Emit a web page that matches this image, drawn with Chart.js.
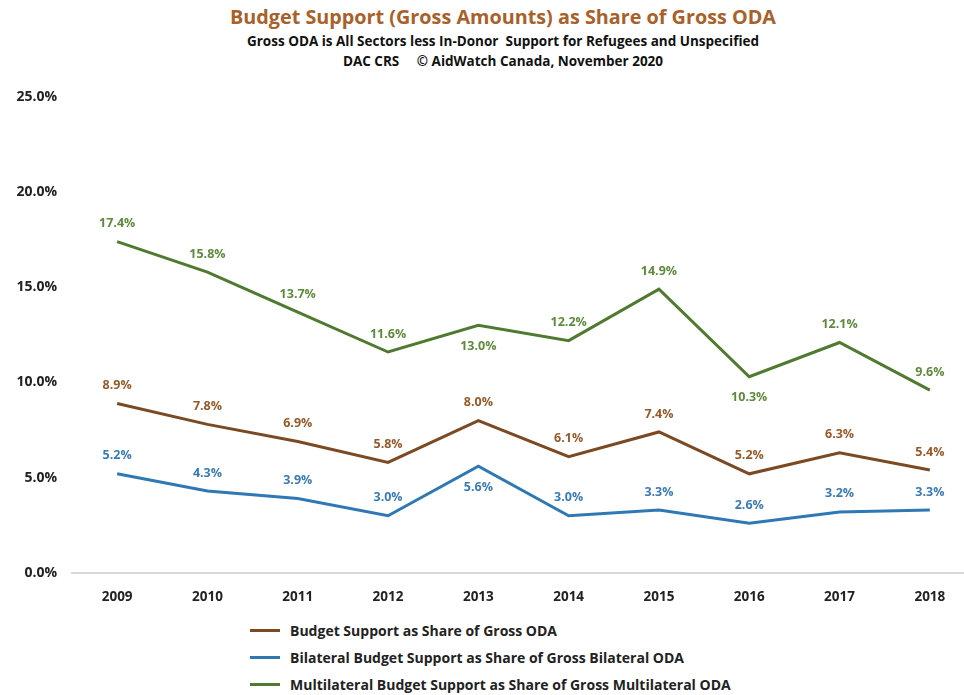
<!DOCTYPE html>
<html>
<head>
<meta charset="utf-8">
<script src="https://cdn.jsdelivr.net/npm/chart.js@4.4.0/dist/chart.umd.min.js"></script>
<style>
  html, body { margin: 0; padding: 0; background: #fff; overflow: hidden; }
  #wrap { position: relative; width: 964px; height: 695px; overflow: hidden; }
  #head { position: absolute; left: 0; top: 3px; width: 1006px; text-align: center; font-family: 'Open Sans', sans-serif; font-weight: bold; }
  #head .t { color: #a8612a; font-size: 19.8px; line-height: 28px; }
  #head .s { color: #111; font-size: 13.5px; line-height: 20px; }
  #chartBox { position: absolute; left: 0; top: 74px; width: 975px; height: 539px; }
  #legend { position: absolute; left: 250px; top: 617px; font-family: 'Open Sans', sans-serif; font-weight: bold; font-size: 14px; color: #222; }
  #legend div { height: 27px; display: flex; align-items: center; }
  #legend span.swatch { display: inline-block; width: 30px; height: 3px; margin-right: 10px; }
</style>
</head>
<body>
<div id="wrap">
  <div id="head">
    <div class="t">Budget Support (Gross Amounts) as Share of Gross ODA</div>
    <div class="s">Gross ODA is All Sectors less In-Donor&nbsp; Support for Refugees and Unspecified</div>
    <div class="s">DAC CRS &nbsp;&nbsp;&nbsp; &copy; AidWatch Canada, November 2020</div>
  </div>
  <div id="chartBox"><canvas id="odaChart"></canvas></div>
  <div id="legend"></div>
</div>
<script>
// years on the category axis
const years = ["2009", "2010", "2011", "2012", "2013", "2014", "2015", "2016", "2017", "2018"];

// shares in percent
const totalShare = [8.9, 7.8, 6.9, 5.8, 8.0, 6.1, 7.4, 5.2, 6.3, 5.4];
const bilateralShare = [5.2, 4.3, 3.9, 3.0, 5.6, 3.0, 3.3, 2.6, 3.2, 3.3];
const multilateralShare = [17.4, 15.8, 13.7, 11.6, 13.0, 12.2, 14.9, 10.3, 12.1, 9.6];

const yTicks = [0, 5, 10, 15, 20, 25];

// label placement: a = above the point, b = below
const totalPlace = ["a", "a", "a", "a", "a", "a", "a", "a", "a", "a"];
const bilateralPlace = ["a", "a", "a", "a", "b", "a", "a", "a", "a", "a"];
const multilateralPlace = ["a", "a", "a", "a", "b", "a", "a", "b", "a", "a"];

const FONT = "'Open Sans', Lato, sans-serif";

// value labels drawn next to each point
const pointLabels = {
    id: "pointLabels",
    afterDatasetsDraw(chart) {
        const ctx = chart.ctx;
        ctx.save();
        ctx.font = "bold 12.5px " + FONT;
        ctx.textAlign = "center";
        ctx.textBaseline = "middle";
        chart.data.datasets.forEach((ds, i) => {
            const meta = chart.getDatasetMeta(i);
            meta.data.forEach((pt, j) => {
                const dy = ds.place[j] === "b" ? 21 : -18;
                ctx.fillStyle = ds.labelColor;
                ctx.fillText(ds.data[j].toFixed(1) + "%", pt.x, pt.y + dy);
            });
        });
        ctx.restore();
    }
};

const chart = new Chart(document.getElementById("odaChart"), {
    type: "line",
    data: {
        labels: years,
        datasets: [
            {
                label: "Budget Support as Share of Gross ODA",
                data: totalShare,
                borderColor: "#7b4a22",
                labelColor: "#965a28",
                place: totalPlace
            },
            {
                label: "Bilateral Budget Support as Share of Gross Bilateral ODA",
                data: bilateralShare,
                borderColor: "#2f78b4",
                labelColor: "#3a7bb5",
                place: bilateralPlace
            },
            {
                label: "Multilateral Budget Support as Share of Gross Multilateral ODA",
                data: multilateralShare,
                borderColor: "#4f7a30",
                labelColor: "#5f8a3c",
                place: multilateralPlace
            }
        ]
    },
    options: {
        responsive: true,
        maintainAspectRatio: false,
        animation: false,
        elements: {
            line: { borderWidth: 3, tension: 0 },
            point: { radius: 0 }
        },
        layout: { padding: { top: 23, right: 0, left: 0, bottom: 0 } },
        scales: {
            x: {
                offset: true,
                grid: { display: false },
                border: { display: true, color: "#d9d9d9", width: 2 },
                ticks: {
                    color: "#222",
                    padding: 8,
                    font: { family: FONT, weight: "bold", size: 13.5 }
                }
            },
            y: {
                min: 0,
                max: 25,
                afterBuildTicks(scale) {
                    scale.ticks = yTicks.map(v => ({ value: v }));
                },
                afterFit(scale) { scale.width = 72; },
                grid: { display: false },
                border: { display: false },
                ticks: {
                    color: "#222",
                    padding: 7,
                    font: { family: FONT, weight: "bold", size: 14 },
                    callback: v => v.toFixed(1) + "%"
                }
            }
        },
        plugins: {
            legend: { display: false },
            tooltip: { enabled: false }
        }
    },
    plugins: [pointLabels]
});

// legend listed as a column under the chart
const legendBox = document.getElementById("legend");
chart.data.datasets.forEach(ds => {
    const row = document.createElement("div");
    const sw = document.createElement("span");
    sw.className = "swatch";
    sw.style.background = ds.borderColor;
    row.appendChild(sw);
    row.appendChild(document.createTextNode(ds.label));
    legendBox.appendChild(row);
});
</script>
</body>
</html>
